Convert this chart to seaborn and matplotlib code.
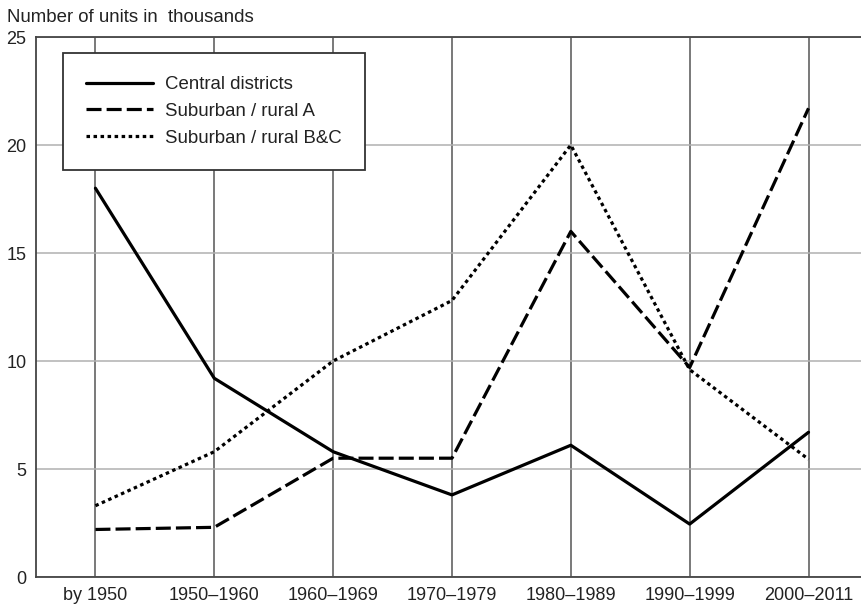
import matplotlib
matplotlib.use("Agg")
import matplotlib.pyplot as plt
import pandas as pd
import seaborn as sns

# data (thousands of units)
periods = ["by 1950", "1950–1960", "1960–1969", "1970–1979",
           "1980–1989", "1990–1999", "2000–2011"]
central = [18.0, 9.2, 5.8, 3.8, 6.1, 2.45, 6.7]
suburban_a = [2.2, 2.3, 5.5, 5.5, 16.0, 9.7, 21.7]
suburban_bc = [3.3, 5.8, 10.0, 12.8, 20.0, 9.6, 5.45]
series_names = ["Central districts", "Suburban / rural A", "Suburban / rural B&C"]

df = pd.DataFrame({
    "period": periods * 3,
    "value": central + suburban_a + suburban_bc,
    "series": [series_names[0]] * 7 + [series_names[1]] * 7 + [series_names[2]] * 7,
})

sns.set_style("white")
plt.rcParams["font.family"] = ["Liberation Sans", "DejaVu Sans"]

fig = plt.figure(figsize=(8.62, 6.04), dpi=100)
ax = fig.add_axes([36 / 862, 1 - 577 / 604, 826 / 862, 540 / 604])

sns.lineplot(data=df, x="period", y="value", hue="series", style="series",
             palette=["black"] * 3,
             dashes={series_names[0]: "", series_names[1]: (4.7, 1.6),
                     series_names[2]: (1.1, 1.1)},
             linewidth=2.3, sort=False, ax=ax)

ax.set_xlim(-0.5, 6.45)
ax.set_ylim(0, 25)
ax.set_yticks([0, 5, 10, 15, 20, 25])
ax.set_xlabel("")
ax.set_ylabel("")

# grid: vertical lines darker than horizontal ones
ax.grid(False)
ax.xaxis.grid(True, color="#555555", linewidth=1.1)
ax.yaxis.grid(True, color="#b0b0b0", linewidth=1.1)
ax.set_axisbelow(True)
for s in ax.spines.values():
    s.set_color("#444444")
    s.set_linewidth(1.3)
ax.tick_params(axis="both", length=0, labelsize=13, colors="#222222", pad=7)

fig.text(7 / 862, 1 - 17 / 604, "Number of units in  thousands",
         fontsize=13.4, color="#222222", va="center", ha="left")

leg = ax.legend(loc="upper left", bbox_to_anchor=(27 / 826, 1 - 16 / 540),
                borderaxespad=0, fontsize=13.4, handlelength=3.6,
                handletextpad=0.65, borderpad=1.25, labelspacing=0.52,
                fancybox=False, framealpha=1, edgecolor="#333333")
leg.get_frame().set_linewidth(1.3)
for t in leg.get_texts():
    t.set_color("#222222")

fig.savefig("out.png", dpi=100)
